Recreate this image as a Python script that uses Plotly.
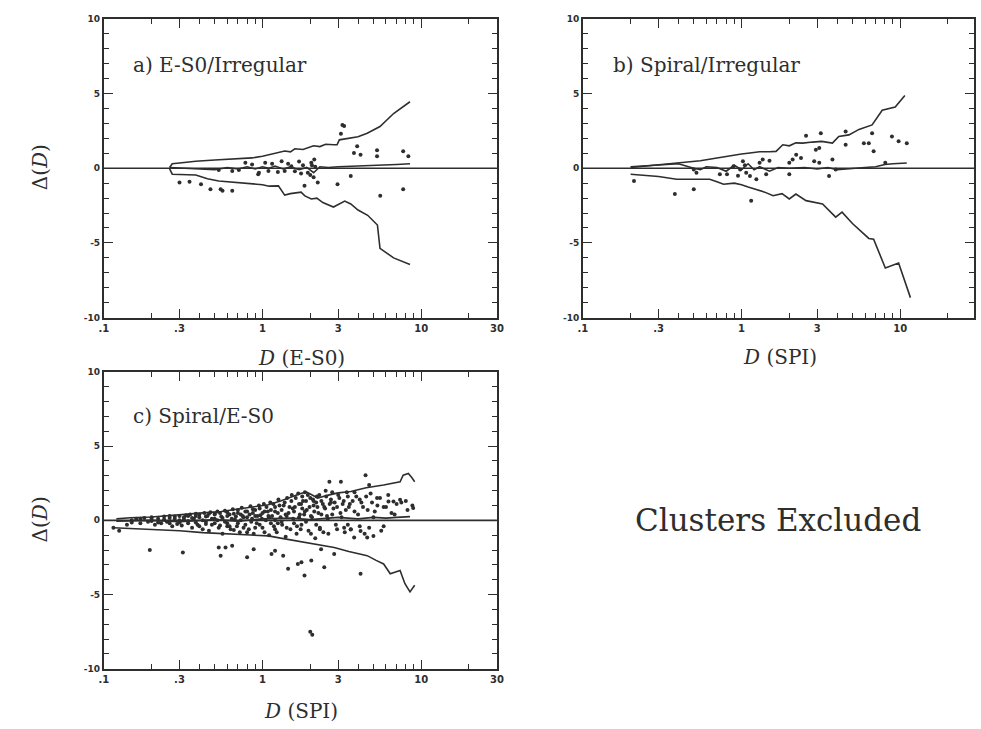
import plotly.graph_objects as go

# ---------------- data ----------------
# Panel a: E-S0 / Irregular
a_up_x = [0.26, 0.27, 0.3, 0.38, 0.5, 0.65, 0.86, 1.0, 1.15, 1.3, 1.38, 1.5, 1.6, 1.8, 1.93, 2.1, 2.3, 2.5, 2.82, 2.95, 3.05, 3.5, 4.0, 4.57, 5.5, 6.7, 8.5]
a_up_y = [0.05, 0.3, 0.35, 0.47, 0.55, 0.62, 0.69, 0.8, 0.95, 1.1, 1.15, 1.1, 1.3, 1.25, 1.35, 1.5, 1.45, 1.6, 1.57, 1.57, 1.9, 2.0, 2.1, 2.34, 2.79, 3.66, 4.45]
a_lo_x = [0.26, 0.27, 0.38, 0.45, 0.53, 0.6, 0.7, 0.86, 1.0, 1.1, 1.26, 1.38, 1.5, 1.75, 1.85, 2.03, 2.2, 2.4, 2.8, 3.3, 3.6, 4.0, 4.6, 5.3, 5.5, 6.7, 8.5]
a_lo_y = [-0.05, -0.4, -0.45, -0.7, -0.85, -0.9, -0.95, -1.07, -1.1, -1.2, -1.18, -1.8, -1.7, -1.6, -1.85, -2.06, -2.0, -2.3, -2.6, -2.2, -2.39, -2.8, -3.15, -3.8, -5.36, -6.0, -6.45]
a_mn_x = [0.26, 0.35, 0.5, 0.6, 0.7, 0.8, 0.9, 1.0, 1.1, 1.2, 1.35, 1.5, 1.7, 1.9, 2.1, 2.3, 2.6, 3.0, 4.0, 5.0, 6.0, 7.0, 8.5]
a_mn_y = [0.05, 0.0, -0.1, 0.05, -0.05, 0.1, -0.05, 0.1, 0.0, 0.15, -0.05, 0.1, -0.1, 0.05, -0.3, 0.1, 0.05, 0.1, 0.15, 0.15, 0.2, 0.25, 0.3]
a_pt_x = [3.19, 3.27, 3.12, 3.95, 3.77, 4.15, 5.27, 5.27, 7.7, 8.3, 3.6, 2.23, 2.97, 1.84, 5.52, 7.7,
          0.30, 0.347, 0.41, 0.47, 0.545, 0.56, 0.645,
          0.53, 0.645, 0.71, 0.78, 0.86, 0.94, 1.04, 1.09, 1.32, 1.38, 1.52, 1.93, 2.03, 2.12,
          1.45, 1.6, 1.7, 1.75, 2.0, 2.05, 1.25, 1.15, 0.95, 2.1, 2.15, 1.8]
a_pt_y = [2.9, 2.83, 2.3, 1.47, 1.02, 0.91, 1.2, 0.8, 1.13, 0.8, -0.52, -0.96, -1.07, -1.18, -1.84, -1.4,
          -0.96, -0.91, -1.07, -1.4, -1.4, -1.5, -1.5,
          -0.12, -0.19, -0.12, 0.36, 0.25, -0.41, 0.36, -0.19, 0.47, -0.19, 0.14, -0.3, 0.36, 0.58,
          0.3, -0.2, 0.45, -0.35, -0.45, 0.2, -0.25, 0.3, -0.3, -0.6, 0.1, 0.2]

# Panel b: Spiral / Irregular
b_up_x = [0.2, 0.25, 0.34, 0.45, 0.55, 0.7, 0.8, 0.9, 1.0, 1.13, 1.3, 1.5, 1.65, 1.82, 2.0, 2.2, 2.43, 2.8, 3.2, 3.74, 4.1, 4.75, 5.5, 6.65, 7.7, 9.3, 10.7]
b_up_y = [0.05, 0.15, 0.25, 0.4, 0.5, 0.69, 0.8, 0.85, 0.95, 1.02, 1.1, 1.1, 1.13, 1.57, 1.5, 1.7, 1.68, 1.75, 1.8, 1.68, 2.12, 2.23, 2.6, 2.9, 3.88, 4.1, 4.87]
b_lo_x = [0.2, 0.3, 0.39, 0.5, 0.63, 0.7, 0.77, 0.9, 1.0, 1.1, 1.24, 1.4, 1.58, 1.8, 2.0, 2.2, 2.55, 3.24, 3.92, 4.3, 5.0, 5.6, 6.34, 6.8, 8.06, 9.77, 11.6]
b_lo_y = [-0.4, -0.55, -0.74, -0.75, -0.74, -0.9, -1.07, -1.0, -1.1, -1.25, -1.4, -1.6, -1.84, -1.7, -2.06, -1.73, -2.17, -2.39, -3.27, -2.94, -3.7, -4.2, -4.7, -4.75, -6.68, -6.35, -8.66]
b_mn_x = [0.2, 0.3, 0.4, 0.5, 0.55, 0.6, 0.7, 0.8, 0.9, 1.0, 1.1, 1.2, 1.3, 1.5, 1.7, 2.0, 2.5, 3.0, 3.5, 4.0, 5.0, 6.0, 7.0, 8.0, 9.0, 11.0]
b_mn_y = [0.1, 0.2, 0.3, 0.0, -0.1, 0.1, 0.05, -0.2, 0.2, -0.1, 0.3, -0.1, 0.1, -0.2, 0.05, 0.0, 0.05, -0.05, 0.05, -0.1, 0.0, 0.05, 0.1, 0.25, 0.3, 0.35]
b_pt_x = [3.16, 2.55, 4.53, 6.65, 5.9, 6.34, 8.87, 9.77, 11.0, 6.8, 4.53, 2.94, 3.09, 2.21, 2.37, 2.1,
          2.87, 3.09, 3.74, 3.92, 2.0, 3.56, 1.36, 1.30, 1.02, 0.98, 0.89, 1.07, 1.13, 0.81, 0.73,
          1.43, 1.24, 0.50, 0.52, 0.21, 0.38, 0.50, 1.15, 8.05, 2.0, 1.05, 0.95, 1.5]
b_pt_y = [2.34, 2.17, 2.45, 2.34, 1.68, 1.68, 2.12, 1.8, 1.68, 1.13, 1.57, 1.24, 1.35, 0.91, 0.69, 0.58,
          0.47, 0.36, 0.58, -0.08, -0.41, -0.52, 0.58, 0.36, 0.47, -0.08, 0.14, -0.3, -0.52, -0.41, -0.41,
          -0.41, -0.74, -0.08, -0.3, -0.85, -1.73, -1.4, -2.17, 0.36, 0.36, 0.2, -0.5, 0.5]

# Panel c: Spiral / E-S0
c_up_x = [0.12, 0.147, 0.2, 0.3, 0.42, 0.55, 0.7, 0.85, 1.09, 1.3, 1.5, 1.76, 1.9, 2.05, 2.23, 2.6, 3.0, 3.6, 4.5, 5.8, 6.5, 7.36, 7.7, 8.3, 8.7, 9.1]
c_up_y = [0.1, 0.17, 0.22, 0.35, 0.5, 0.6, 0.75, 0.9, 1.05, 1.3, 1.55, 1.83, 1.9, 1.7, 1.5, 1.7, 1.85, 1.94, 2.2, 2.38, 2.5, 2.6, 3.04, 3.16, 2.9, 2.6]
c_lo_x = [0.115, 0.2, 0.3, 0.42, 0.6, 0.8, 1.09, 1.3, 1.6, 2.0, 2.4, 2.83, 3.5, 4.57, 5.2, 5.8, 6.38, 7.0, 7.36, 7.9, 8.5, 9.1]
c_lo_y = [-0.5, -0.6, -0.7, -0.83, -0.9, -0.98, -1.05, -1.2, -1.38, -1.55, -1.7, -1.83, -2.1, -2.38, -2.7, -2.94, -3.6, -3.45, -3.38, -4.27, -4.82, -4.37]
c_mn_x = [0.12, 0.2, 0.3, 0.5, 0.7, 1.0, 1.5, 2.0, 3.0, 4.0, 5.0, 6.0, 7.0, 8.5]
c_mn_y = [-0.05, 0.0, -0.1, 0.05, -0.05, 0.1, 0.15, 0.05, 0.2, 0.1, 0.2, 0.15, 0.2, 0.25]
c_pt_x = [0.115, 0.125, 0.14, 0.16, 0.17, 0.18, 0.19, 0.2, 0.21, 0.22, 0.23, 0.24, 0.25, 0.26, 0.27, 0.28,
          0.29, 0.3, 0.31, 0.32, 0.33, 0.34, 0.35, 0.36, 0.37, 0.38, 0.39, 0.4, 0.42, 0.43, 0.44, 0.45,
          0.46, 0.47, 0.48, 0.5, 0.52, 0.53, 0.55, 0.56, 0.58, 0.6, 0.62, 0.63, 0.65, 0.67, 0.69, 0.7,
          0.72, 0.74, 0.76, 0.78, 0.8, 0.82, 0.84, 0.86, 0.88, 0.9, 0.92, 0.95, 0.97, 1.0, 1.02, 1.05,
          1.08, 1.1, 1.12, 1.15, 1.18, 1.2, 1.23, 1.26, 1.3, 1.33, 1.36, 1.4, 1.43, 1.46, 1.5, 1.53,
          1.56, 1.6, 1.64, 1.68, 1.72, 1.76, 1.8, 1.85, 1.9, 1.95, 2.0, 2.05, 2.1, 2.15, 2.2, 2.25,
          2.3, 2.4, 2.5, 2.55, 2.6, 2.7, 2.8, 2.9, 3.0, 3.1, 3.2, 3.3, 3.4, 3.5, 3.6, 3.7,
          3.9, 4.0, 4.2, 4.4, 4.6, 4.8, 5.0, 5.3, 5.6, 6.0, 6.5, 7.0, 8.0, 8.8,
          0.195, 0.315, 0.53, 0.585, 0.644, 0.545, 0.80, 0.88, 1.14, 1.2, 1.35, 1.45, 1.67, 1.76, 1.84,
          2.03, 2.45, 2.34, 2.83, 4.15, 2.0, 2.06, 3.27, 3.6, 4.15, 4.57, 5.0, 3.78,
          4.46, 2.64, 3.12, 4.7, 5.27, 6.22, 6.69, 7.36, 8.9,
          0.9, 1.0, 1.1, 1.2, 1.25, 1.4, 1.55, 1.65, 1.75, 1.85, 2.1, 2.3, 2.45, 2.7, 0.6, 0.75, 0.5,
          0.15, 0.15, 0.17, 0.2, 0.2, 0.22, 0.24, 0.26, 0.26, 0.28, 0.3, 0.3, 0.32, 0.34, 0.34, 0.36,
          0.38, 0.38, 0.4, 0.4, 0.42, 0.44, 0.44, 0.46, 0.48, 0.5, 0.5, 0.52, 0.54, 0.54, 0.56, 0.58,
          0.6, 0.6, 0.62, 0.64, 0.66, 0.66, 0.68, 0.7, 0.7, 0.73, 0.73, 0.76, 0.78, 0.8, 0.8, 0.83,
          0.85, 0.87, 0.87, 0.9, 0.93, 0.96, 0.96, 0.99, 1.03, 1.03, 1.06, 1.09, 1.13, 1.13, 1.17, 1.2,
          1.2, 1.25, 1.28, 1.32, 1.32, 1.38, 1.42, 1.42, 1.48, 1.52, 1.58, 1.58, 1.62, 1.7, 1.7, 1.74,
          1.78, 1.78, 1.83, 1.88, 1.88, 1.93, 1.98, 2.02, 2.02, 2.08, 2.12, 2.18, 2.18, 2.22, 2.28, 2.35,
          2.35, 2.42, 2.48, 2.52, 2.58, 2.65, 2.75, 2.75, 2.85, 2.95, 2.95, 3.05, 3.15, 3.25, 3.35, 3.45,
          3.45, 3.55, 3.8, 3.8, 4.1, 4.1, 4.3, 4.5, 4.7, 4.9, 5.1, 5.5, 5.8, 5.8, 6.2, 6.8,
          7.5, 8.2]
c_pt_y = [-0.5, -0.7, -0.3, 0.1, -0.2, 0.15, -0.1, 0.2, -0.3, 0.1, -0.2, 0.25, -0.1, 0.3, -0.4, 0.1,
          -0.25, 0.3, -0.35, 0.05, 0.35, -0.2, 0.4, -0.5, 0.1, 0.45, -0.3, 0.2, -0.6, 0.5, -0.1, 0.3,
          -0.7, 0.55, -0.3, 0.1, 0.6, -0.5, 0.25, -0.9, 0.65, -0.2, 0.4, -0.6, 0.75, 0.05, -0.4, 0.5,
          -0.8, 0.85, 0.2, -0.3, 0.6, -0.6, 0.95, 0.1, -0.9, 0.7, -0.2, 1.0, 0.35, -0.5, 1.1, 0.0,
          0.6, -1.0, 1.2, 0.3, -0.4, 0.9, -0.8, 1.4, 0.2, -0.3, 1.0, -1.1, 1.5, 0.5, -0.6, 1.7,
          0.1, 0.9, -0.9, 1.8, 0.4, -0.3, 1.3, 1.9, 0.7, -0.7, 1.5, 0.2, 1.0, -1.2, 1.6, 0.5,
          -0.5, 1.1, 2.0, 0.3, -0.9, 1.4, 0.8, -0.3, 1.7, 0.5, 1.1, -0.8, 1.9, 0.9, -0.6, 1.3,
          1.6, 0.4, 1.2, -0.9, 0.7, 1.8, 0.2, 1.0, -0.7, 0.9, 0.5, 1.1, 1.3, 1.0,
          -2.0, -2.16, -1.83, -1.83, -1.71, -2.38, -2.49, -1.94, -2.27, -2.05, -2.38, -3.27, -2.94, -2.83, -3.71,
          -2.71, -3.16, -1.94, -2.27, -3.6, -7.5, -7.7, -0.5, -0.61, -0.72, -1.16, -1.05, -1.16,
          3.04, 2.6, 2.6, 2.38, 1.5, 1.27, 1.27, 1.38, 0.83,
          0.3, 0.5, 0.2, 0.6, -0.2, 0.4, 0.8, -0.4, 1.1, 0.6, 1.3, -0.6, 0.9, 1.2, -0.4, 0.3, 0.45,
          0.0, -0.15, 0.1, -0.05, 0.1, -0.15, 0.05, -0.2, 0.15, 0.25, 0.0, -0.15, 0.2, 0.3, -0.05, 0.15,
          -0.15, 0.3, 0.4, -0.4, 0.0, 0.25, -0.25, 0.45, 0.1, -0.2, 0.4, 0.0, 0.5, -0.35, 0.15, -0.1,
          0.55, 0.3, -0.4, 0.1, 0.45, -0.65, 0.25, -0.2, 0.7, 0.0, 0.4, -0.5, 0.6, 0.2, -0.8, 0.4,
          -0.1, 0.75, 0.5, -0.5, 0.3, 0.8, -0.3, 0.1, 0.6, -0.8, 0.9, 0.3, -0.2, 0.7, 1.1, 0.0,
          -0.6, 0.5, 1.0, -0.1, 0.7, 1.2, 0.3, -0.5, 0.9, 1.3, 0.6, -0.2, 1.5, 0.2, 1.1, -0.6,
          0.8, 1.6, 0.4, 1.3, -0.1, 1.7, 0.9, 0.3, -0.9, 1.4, 0.6, 1.2, -0.3, 0.9, 1.7, 0.4,
          1.3, -0.8, 0.8, 1.6, 0.1, 1.1, 1.9, 0.4, 1.2, -0.6, 0.9, 1.5, 0.2, 1.3, 0.7, -0.3,
          1.6, 1.1, 0.6, 1.9, 1.4, -0.4, 0.9, 1.6, -0.5, 1.2, 0.6, 1.5, -0.4, 0.9, 1.7, 0.4,
          1.2, 0.7]

tick_vals = [0.1, 0.3, 1, 3, 10, 30]
tick_text = ["<b>.1</b>", "<b>.3</b>", "<b>1</b>", "<b>3</b>", "<b>10</b>", "<b>30</b>"]
minor_vals = [0.2, 0.4, 0.5, 0.6, 0.7, 0.8, 0.9, 2, 4, 5, 6, 7, 8, 9, 20]
y_vals = [-10, -5, 0, 5, 10]
y_text = ["<b>-10</b>", "<b>-5</b>", "<b>0</b>", "<b>5</b>", "<b>10</b>"]

INK = "#2e2e2e"
FONT = "DejaVu Serif"

fig = go.Figure()

panels = [
    ("x", "y", a_up_x, a_up_y, a_lo_x, a_lo_y, a_mn_x, a_mn_y, a_pt_x, a_pt_y),
    ("x2", "y2", b_up_x, b_up_y, b_lo_x, b_lo_y, b_mn_x, b_mn_y, b_pt_x, b_pt_y),
    ("x3", "y3", c_up_x, c_up_y, c_lo_x, c_lo_y, c_mn_x, c_mn_y, c_pt_x, c_pt_y),
]

line_style = dict(color=INK, width=1.6)
for xa, ya, ux, uy, lx, ly, mx, my, px, py in panels:
    # zero reference line across the full axis
    fig.add_trace(go.Scatter(x=[0.1, 30], y=[0, 0], mode="lines", line=line_style,
                             xaxis=xa, yaxis=ya, showlegend=False, hoverinfo="skip"))
    fig.add_trace(go.Scatter(x=px, y=py, mode="markers",
                             marker=dict(size=4, color=INK), xaxis=xa, yaxis=ya, showlegend=False))
    for cx, cy in ((ux, uy), (lx, ly), (mx, my)):
        fig.add_trace(go.Scatter(x=cx, y=cy, mode="lines", line=line_style,
                                 xaxis=xa, yaxis=ya, showlegend=False))


def xaxis(domain, anchor, top=1.4771):
    return dict(domain=domain, anchor=anchor, type="log", range=[-1, top],
                tickmode="array", tickvals=tick_vals, ticktext=tick_text,
                ticks="inside", ticklen=9, tickwidth=1.3, tickcolor=INK,
                minor=dict(tickmode="array", tickvals=minor_vals, ticks="inside",
                           ticklen=5, tickwidth=1.2, tickcolor=INK),
                showline=True, linecolor=INK, linewidth=1.7, mirror="ticks",
                showgrid=False, zeroline=False,
                tickfont=dict(family="DejaVu Sans", size=10, color=INK))


def yaxis(domain, anchor):
    return dict(domain=domain, anchor=anchor, range=[-10, 10],
                tickmode="array", tickvals=y_vals, ticktext=y_text,
                ticks="inside", ticklen=9, tickwidth=1.3, tickcolor=INK,
                minor=dict(tickmode="array", tickvals=[v for v in range(-9, 10) if v % 5 != 0],
                           ticks="inside", ticklen=5, tickwidth=1.2, tickcolor=INK),
                showline=True, linecolor=INK, linewidth=1.7, mirror="ticks",
                showgrid=False, zeroline=False,
                tickfont=dict(family="DejaVu Sans", size=9, color=INK))


W, H = 981, 729
def px_x(p):
    return p / W
def px_y(p):
    return 1 - p / H

fig.update_layout(
    width=W, height=H,
    margin=dict(l=0, r=0, t=0, b=0),
    paper_bgcolor="white", plot_bgcolor="white",
    xaxis=xaxis([px_x(100), px_x(498)], "y"),
    yaxis=yaxis([px_y(317), px_y(14)], "x"),
    xaxis2=xaxis([px_x(585), 1.0], "y2", top=1.465),
    yaxis2=yaxis([px_y(317), px_y(14)], "x2"),
    xaxis3=xaxis([px_x(100), px_x(498)], "y3"),
    yaxis3=yaxis([px_y(673), px_y(372)], "x3"),
)

ann = []
def text(x, y, s, size, xanchor="center", angle=0):
    ann.append(dict(x=px_x(x), y=px_y(y), xref="paper", yref="paper", text=s,
                    showarrow=False, xanchor=xanchor, yanchor="middle", textangle=angle,
                    font=dict(family=FONT, size=size, color=INK)))

text(128, 61, "a) E-S0/Irregular", 20, xanchor="left")
text(613, 61, "b) Spiral/Irregular", 20, xanchor="left")
text(128, 417, "c) Spiral/E-S0", 20, xanchor="left")
text(35, 165, "Δ(<i>D</i>)", 20, angle=-90)
text(35, 522, "Δ(<i>D</i>)", 20, angle=-90)
text(300, 358, "<i>D</i> (E-S0)", 20)
text(785, 357, "<i>D</i> (SPI)", 20)
text(300, 716, "<i>D</i> (SPI)", 20)
text(783, 522, "Clusters Excluded", 31)
fig.update_layout(annotations=ann)

fig.write_html("out.html")
